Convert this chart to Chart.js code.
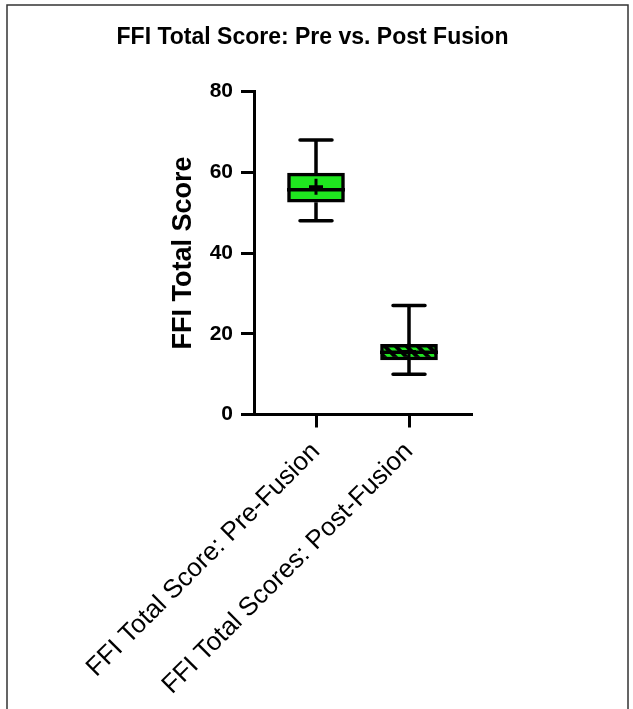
<!DOCTYPE html>
<html>
<head>
<meta charset="utf-8">
<script src="https://cdn.jsdelivr.net/npm/chart.js@4.4.0/dist/chart.umd.min.js"></script>
<style>
  html, body { margin: 0; padding: 0; background: #fff; }
  canvas { display: block; }
</style>
</head>
<body>
<canvas id="graficaFFI" width="633" height="709"></canvas>
<script>
// Datos de la grafica
var groups = ['FFI Total Score: Pre-Fusion', 'FFI Total Scores: Post-Fusion'];
var minVals = [48, 10];
var q1Vals = [52.6, 13.5];
var medianVals = [55.7, 15.4];
var q3Vals = [59.8, 17.4];
var maxVals = [68, 27];
var meanVals = [56.4, 15.6];
var yTicks = [0, 20, 40, 60, 80];

var green = '#1fe61f';

// Patron rayado para la caja post
function makeStripes() {
    var s = 11;
    var c = document.createElement('canvas');
    c.width = s; c.height = s;
    var p = c.getContext('2d');
    p.fillStyle = '#000';
    p.fillRect(0, 0, s, s);
    p.strokeStyle = green;
    p.lineWidth = 4;
    [-s, 0, s].forEach(function(off) {
        p.beginPath();
        p.moveTo(off, 0);
        p.lineTo(off + s, s);
        p.stroke();
    });
    return p.createPattern(c, 'repeat');
}

var boxData = groups.map(function(g, i) {
    return { x: i + 1, y: [q1Vals[i], q3Vals[i]] };
});

// Bigotes, mediana y media
var boxExtras = {
    id: 'boxExtras',
    beforeDraw: function(chart) {
        var ctx = chart.ctx;
        ctx.save();
        ctx.fillStyle = '#fff';
        ctx.fillRect(0, 0, chart.width, chart.height);
        ctx.strokeStyle = '#333';
        ctx.lineWidth = 1.5;
        ctx.strokeRect(7, 5, 621, 720);
        ctx.restore();
    },
    afterDatasetsDraw: function(chart) {
        var ctx = chart.ctx;
        var x = chart.scales.x, y = chart.scales.y;
        var half = 29;
        ctx.save();
        ctx.strokeStyle = '#000';
        groups.forEach(function(g, i) {
            var cx = x.getPixelForValue(i + 1);
            ctx.lineWidth = 3.5;
            ctx.lineCap = 'butt';
            ctx.beginPath();
            ctx.moveTo(cx, y.getPixelForValue(q3Vals[i]));
            ctx.lineTo(cx, y.getPixelForValue(maxVals[i]));
            ctx.moveTo(cx, y.getPixelForValue(q1Vals[i]));
            ctx.lineTo(cx, y.getPixelForValue(minVals[i]));
            ctx.stroke();
            ctx.lineCap = 'round';
            ctx.beginPath();
            ctx.moveTo(cx - 16, y.getPixelForValue(maxVals[i]));
            ctx.lineTo(cx + 16, y.getPixelForValue(maxVals[i]));
            ctx.moveTo(cx - 16, y.getPixelForValue(minVals[i]));
            ctx.lineTo(cx + 16, y.getPixelForValue(minVals[i]));
            ctx.stroke();
            // mediana
            ctx.lineCap = 'butt';
            ctx.beginPath();
            ctx.moveTo(cx - half, y.getPixelForValue(medianVals[i]));
            ctx.lineTo(cx + half, y.getPixelForValue(medianVals[i]));
            ctx.stroke();
            // media (+)
            var my = y.getPixelForValue(meanVals[i]);
            ctx.lineWidth = 3;
            ctx.beginPath();
            ctx.moveTo(cx, my - 8);
            ctx.lineTo(cx, my + 8);
            ctx.moveTo(cx - 7, my);
            ctx.lineTo(cx + 7, my);
            ctx.stroke();
        });
        ctx.restore();
    }
};

Chart.defaults.font.family = "'Liberation Sans', Arial, sans-serif";
Chart.defaults.color = '#000';

window.onload = function() {
    var ctx = document.getElementById('graficaFFI').getContext('2d');
    window.myBox = new Chart(ctx, {
        type: 'bar',
        data: {
            datasets: [{
                label: 'FFI Total Score',
                data: boxData,
                backgroundColor: [green, makeStripes()],
                borderColor: '#000',
                borderWidth: 3.5,
                borderSkipped: false,
                barThickness: 57
            }]
        },
        options: {
            responsive: false,
            animation: false,
            layout: {
                padding: { left: 0, right: 8, top: 10, bottom: 0 }
            },
            plugins: {
                legend: { display: false },
                tooltip: { enabled: false },
                title: {
                    display: true,
                    text: 'FFI Total Score: Pre vs. Post Fusion',
                    font: { size: 23, weight: 'bold' },
                    color: '#000',
                    padding: { top: 14, bottom: 40 }
                }
            },
            scales: {
                x: {
                    type: 'linear',
                    offset: false,
                    min: 1 / 3,
                    max: 8 / 3,
                    afterBuildTicks: function(scale) {
                        scale.ticks = [{ value: 1 }, { value: 2 }];
                    },
                    afterFit: function(scale) {
                        scale.height = 294.5;
                    },
                    ticks: {
                        autoSkip: false,
                        minRotation: 45,
                        maxRotation: 45,
                        padding: 9,
                        font: { size: 26 },
                        color: '#000',
                        callback: function(value) { return groups[value - 1]; }
                    },
                    grid: {
                        offset: false,
                        drawOnChartArea: false,
                        drawTicks: true,
                        tickLength: 13,
                        lineWidth: 3,
                        color: '#000'
                    },
                    border: { display: true, width: 3, color: '#000' }
                },
                y: {
                    min: 0,
                    max: 80,
                    afterBuildTicks: function(scale) {
                        scale.ticks = yTicks.map(function(v) { return { value: v }; });
                    },
                    afterFit: function(scale) {
                        scale.width = 254;
                    },
                    ticks: {
                        padding: 8,
                        font: { size: 21, weight: 'bold' },
                        color: '#000'
                    },
                    grid: {
                        drawOnChartArea: false,
                        drawTicks: true,
                        tickLength: 13,
                        lineWidth: 3,
                        color: '#000'
                    },
                    border: { display: true, width: 3, color: '#000' },
                    title: {
                        display: true,
                        text: 'FFI Total Score',
                        font: { size: 27, weight: 'bold' },
                        color: '#000',
                        padding: { top: 167, bottom: 4 }
                    }
                },
                // eje vacio para dejar el margen derecho
                margen: {
                    type: 'linear',
                    position: 'right',
                    display: true,
                    afterFit: function(scale) {
                        scale.width = 154;
                    },
                    ticks: { display: false },
                    grid: { display: false },
                    border: { display: false }
                }
            }
        },
        plugins: [boxExtras]
    });
};
</script>
</body>
</html>
